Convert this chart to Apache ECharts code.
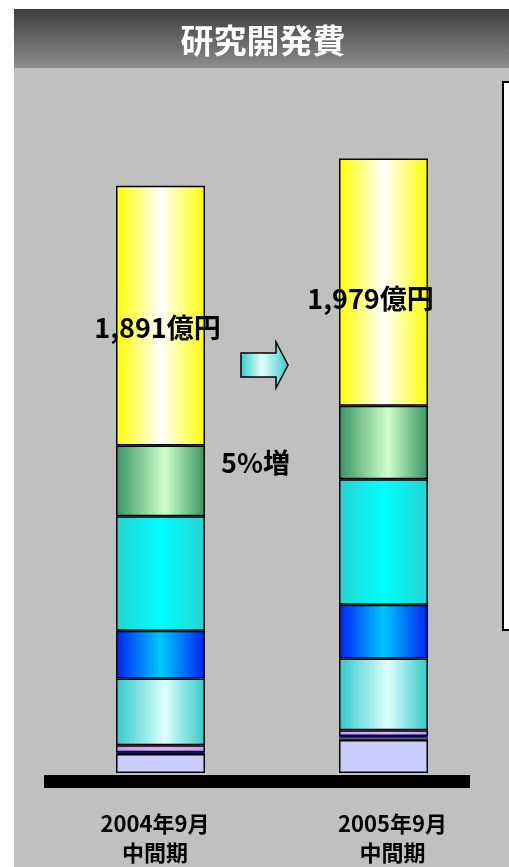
<!DOCTYPE html>
<html>
<head>
<meta charset="utf-8">
<script src="https://cdn.jsdelivr.net/npm/echarts@6/dist/echarts.min.js"></script>
<style>
  html, body { margin: 0; padding: 0; background: #fff; }
  #chart { width: 509px; height: 867px; }
</style>
</head>
<body>
<div id="chart"></div>
<script>
// R&D expenses (億円), interim periods, stacked by component
const categories = ['2004年9月\n中間期', '2005年9月\n中間期'];
const lavender   = [61, 106];
const yellowThin = [0, 8];
const navyThin   = [6, 5];
const purple     = [22, 19];
const paleCyan   = [215, 231];
const blue       = [154, 173];
const cyan       = [369, 404];
const green      = [228, 237];
const yellow     = [836, 796];
const growthText = '5%増';

const layers = [lavender, yellowThin, navyThin, purple, paleCyan, blue, cyan, green, yellow];
const totals = categories.map((_, i) => layers.reduce((s, arr) => s + arr[i], 0));
const fmt = v => v.toString().replace(/\B(?=(\d{3})+(?!\d))/g, ',');

const FONT = '"Noto Sans CJK JP", "Noto Sans", sans-serif';

function hGrad(edge, mid, pos) {
  return new echarts.graphic.LinearGradient(0, 0, 1, 0, [
    { offset: 0, color: edge },
    { offset: pos == null ? 0.55 : pos, color: mid },
    { offset: 1, color: edge }
  ]);
}

function seg(name, data, color, extra) {
  return Object.assign({
    name: name,
    type: 'bar',
    stack: 'total',
    barWidth: 89,
    data: data.map(v => (v === 0 ? null : v)),
    itemStyle: { color: color, borderColor: '#000', borderWidth: 1.5 },
    emphasis: { disabled: true }
  }, extra || {});
}

const chart = echarts.init(document.getElementById('chart'), null, { renderer: 'canvas' });

const labelOffsets = [[-3, 12], [-13, 17]];

chart.setOption({
  backgroundColor: '#ffffff',
  animation: false,
  grid: { left: 49, right: 14, top: 152, bottom: 91, containLabel: false },
  xAxis: {
    type: 'category',
    data: [
      { value: categories[0], textStyle: { padding: [0, 11, 0, 0] } },
      { value: categories[1], textStyle: { padding: [0, 0, 0, 18] } }
    ],
    axisLine: { show: false },
    axisTick: { show: false },
    axisLabel: {
      margin: 36,
      color: '#000',
      fontFamily: FONT,
      fontWeight: 'bold',
      fontSize: 22,
      lineHeight: 29
    }
  },
  yAxis: {
    type: 'value',
    min: 0,
    max: 2000,
    show: false,
    splitLine: { show: false }
  },
  series: [
    seg('lavender', lavender, '#ccccff'),
    seg('yellowThin', yellowThin, '#ffff00', { itemStyle: { color: '#ffff00', borderColor: '#000080', borderWidth: 1 } }),
    seg('navy', navyThin, '#000080', { itemStyle: { color: '#000080', borderColor: '#000060', borderWidth: 1 } }),
    seg('purple', purple, hGrad('#c799ff', '#d9b3ff')),
    seg('paleCyan', paleCyan, hGrad('#33c9c9', '#ddffff')),
    seg('blue', blue, hGrad('#0022f0', '#00c8ff', 0.5)),
    seg('cyan', cyan, hGrad('#26d2d2', '#00ffff', 0.5)),
    seg('green', green, hGrad('#3a9461', '#ccffcc')),
    seg('yellow', yellow, hGrad('#ffff00', '#ffffff', 0.5), {
      label: {
        show: true,
        position: 'inside',
        color: '#000',
        fontFamily: FONT,
        fontWeight: 'bold',
        fontSize: 27,
        formatter: p => fmt(totals[p.dataIndex]) + '億円'
      },
      data: yellow.map((v, i) => ({
        value: v,
        label: { offset: labelOffsets[i] }
      }))
    })
  ],
  graphic: [
    // grey panel
    { type: 'rect', z: -10, shape: { x: 14, y: 68, width: 495, height: 799 }, style: { fill: '#c0c0c0' } },
    // heading band
    {
      type: 'rect', z: -5,
      shape: { x: 14, y: 9, width: 495, height: 59 },
      style: {
        fill: new echarts.graphic.LinearGradient(0, 0, 0, 1, [
          { offset: 0, color: '#3e3e3e' },
          { offset: 1, color: '#8c8c8c' }
        ])
      }
    },
    {
      type: 'text', z: 10,
      x: 263, y: 40,
      style: {
        text: '研究開発費',
        fill: '#ffffff',
        font: 'bold 33px ' + FONT,
        textAlign: 'center',
        textVerticalAlign: 'middle'
      }
    },
    // empty side box
    {
      type: 'rect', z: 1,
      shape: { x: 503, y: 82, width: 12, height: 548 },
      style: { fill: '#ffffff', stroke: '#000', lineWidth: 2 }
    },
    // ground line
    { type: 'rect', z: 100, shape: { x: 44, y: 775, width: 426, height: 13 }, style: { fill: '#000' } },
    // growth arrow
    {
      type: 'polygon', z: 50,
      shape: { points: [[241, 353], [276, 353], [276, 342], [288, 365], [276, 388], [276, 377], [241, 377]] },
      style: {
        fill: new echarts.graphic.LinearGradient(0, 0, 1, 0, [
          { offset: 0, color: '#33c9c9' },
          { offset: 0.45, color: '#e6ffff' },
          { offset: 1, color: '#33c9c9' }
        ]),
        stroke: '#000',
        lineWidth: 1.5
      }
    },
    {
      type: 'text', z: 50,
      x: 221, y: 463,
      style: {
        text: growthText,
        fill: '#000',
        font: 'bold 27px ' + FONT,
        textAlign: 'left',
        textVerticalAlign: 'middle'
      }
    }
  ]
});
</script>
</body>
</html>
